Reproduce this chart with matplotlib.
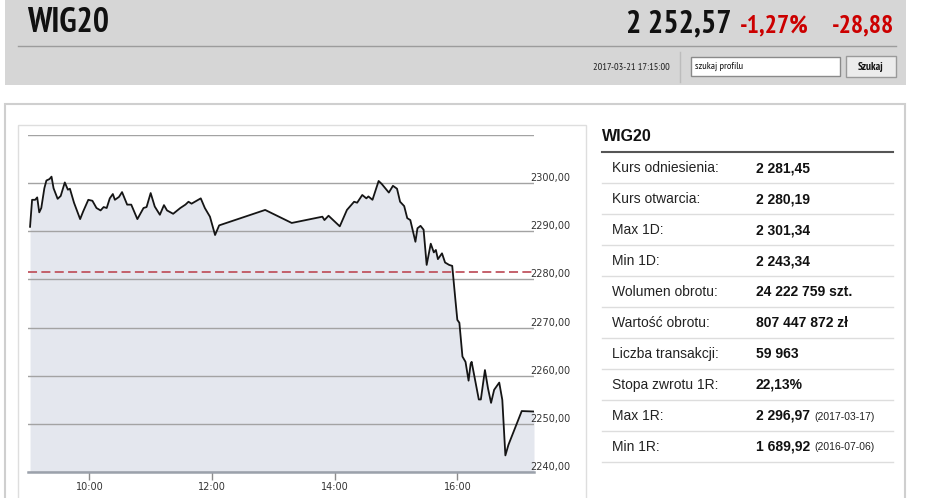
import numpy as np
import matplotlib.pyplot as plt
from matplotlib.patches import Rectangle
from matplotlib import font_manager

# intraday WIG20 quotes (time, index level)
times = ['09:02', '09:04', '09:07', '09:09', '09:11', '09:13', '09:16', '09:18',
         '09:21', '09:23', '09:25', '09:29', '09:32', '09:36', '09:39', '09:41',
         '09:45', '09:51', '09:54', '09:59', '10:03', '10:07', '10:11', '10:14',
         '10:17', '10:20', '10:23', '10:25', '10:29', '10:32', '10:37', '10:41',
         '10:47', '10:53', '10:56', '11:00', '11:04', '11:09', '11:13', '11:16',
         '11:22', '11:29', '11:34', '11:37', '11:40', '11:49', '11:53', '11:58',
         '12:03', '12:07', '12:52', '13:18', '13:48', '13:50', '13:54', '14:05',
         '14:12', '14:19', '14:22', '14:27', '14:31', '14:33', '14:37', '14:43',
         '14:46', '14:53', '14:57', '15:01', '15:04', '15:08', '15:11', '15:14',
         '15:19', '15:21', '15:24', '15:27', '15:30', '15:34', '15:37', '15:39',
         '15:41', '15:45', '15:48', '15:52', '15:55', '15:58', '16:00', '16:02',
         '16:05', '16:08', '16:11', '16:13', '16:14', '16:21', '16:23', '16:27',
         '16:30', '16:33', '16:36', '16:41', '16:44', '16:47', '16:50', '17:03',
         '17:15']
values = [2290.9, 2296.5, 2296.5, 2297.0, 2293.9, 2294.8, 2298.9, 2300.5,
          2300.8, 2301.3, 2298.9, 2296.7, 2297.3, 2300.1, 2298.6, 2298.8,
          2295.9, 2292.5, 2294.1, 2296.5, 2296.3, 2294.8, 2294.3, 2295.0,
          2294.8, 2296.8, 2297.7, 2296.5, 2297.1, 2298.1, 2295.5, 2295.5,
          2292.5, 2294.8, 2295.0, 2297.9, 2295.1, 2293.4, 2295.4, 2294.3,
          2293.6, 2294.8, 2295.5, 2296.1, 2295.7, 2296.8, 2294.8, 2293.0,
          2289.2, 2291.2, 2294.4, 2291.7, 2293.0, 2292.3, 2293.2, 2291.0,
          2294.4, 2296.1, 2295.9, 2297.5, 2296.8, 2297.2, 2296.5, 2300.4,
          2299.8, 2298.0, 2299.4, 2298.8, 2296.1, 2295.2, 2292.7, 2292.3,
          2287.8, 2290.6, 2291.1, 2290.3, 2283.0, 2287.4, 2285.6, 2286.1,
          2284.2, 2285.4, 2283.5, 2283.0, 2282.8, 2276.0, 2271.6, 2271.0,
          2264.0, 2262.9, 2259.0, 2262.5, 2262.9, 2255.1, 2255.1, 2261.2,
          2257.4, 2254.4, 2257.1, 2258.6, 2255.0, 2243.5, 2245.7, 2252.7,
          2252.6]
ref_level = 2281.45
grid_levels = [2240, 2250, 2260, 2270, 2280, 2290, 2300, 2310]
label_levels = [2240, 2250, 2260, 2270, 2280, 2290, 2300]
x_ticks = ['10:00', '12:00', '14:00', '16:00']

table_labels = ['Kurs odniesienia:', 'Kurs otwarcia:', 'Max 1D:', 'Min 1D:',
                'Wolumen obrotu:', 'Wartość obrotu:', 'Liczba transakcji:',
                'Stopa zwrotu 1R:', 'Max 1R:', 'Min 1R:']
table_values = ['2 281,45', '2 280,19', '2 301,34', '2 243,34', '24 222 759 szt.',
                '807 447 872 zł', '59 963', '22,13%', '2 296,97', '1 689,92']
table_notes = ['', '', '', '', '', '', '', '', '(2017-03-17)', '(2016-07-06)']


def to_hours(s):
    h, m = s.split(':')
    return int(h) + int(m) / 60


t = np.array([to_hours(s) for s in times])
v = np.array(values)

plt.rcParams['font.family'] = ['Liberation Sans', 'DejaVu Sans']

# pick a narrow face for the header (Arial Narrow look-alike)
have = {f.name for f in font_manager.fontManager.ttflist}
narrow_pref = ['Liberation Sans Narrow', 'Arial Narrow', 'PT Sans Narrow',
               'Archivo Narrow', 'Roboto Condensed', 'IBM Plex Sans Condensed']
narrow = [n for n in narrow_pref if n in have][0]

W, H = 945, 498
fig = plt.figure(figsize=(W / 100, H / 100), dpi=100)

# page background in pixel coordinates
bg = fig.add_axes([0, 0, 1, 1])
bg.set_xlim(0, W)
bg.set_ylim(H, 0)
bg.axis('off')

# header bar
bg.add_patch(Rectangle((5, 0), 901, 85, fc='#d6d6d6', ec='none'))
bg.plot([18, 896], [46, 46], color='#9c9c9c', lw=1)
bg.text(27, 32, 'WIG20', fontsize=24.5, fontweight='bold', family=narrow,
        color='#111111', va='baseline')
bg.text(731, 32, '2 252,57', fontsize=23, fontweight='bold', family=narrow,
        color='#111111', ha='right', va='baseline')
bg.text(740, 32, '-1,27%', fontsize=18.5, fontweight='bold', family=narrow,
        color='#cc0000', va='baseline')
bg.text(894, 32, '-28,88', fontsize=18.5, fontweight='bold', family=narrow,
        color='#cc0000', ha='right', va='baseline')
bg.text(670, 67, '2017-03-21 17:15:00', fontsize=7.5, family=narrow, color='#222222',
        ha='right', va='center')
bg.plot([680, 680], [52, 82], color='#bcbcbc', lw=1)
bg.add_patch(Rectangle((691, 57), 149, 19, fc='white', ec='#8a8a8a', lw=1))
bg.text(695, 66.5, 'szukaj profilu', fontsize=7.5, family=narrow, color='#111111',
        va='center')
bg.add_patch(Rectangle((846, 56), 50, 21, fc='#ececec', ec='#9a9a9a', lw=1))
bg.text(871, 66.5, 'Szukaj', fontsize=8, fontweight='bold', family=narrow,
        color='#111111', ha='center', va='center')

# content panels
bg.add_patch(Rectangle((5, 104), 900, 400, fc='white', ec='#cfcfcf', lw=1.5))
bg.add_patch(Rectangle((18, 125), 568, 380, fc='none', ec='#dedede', lw=1))

# info table
bg.text(602, 136, 'WIG20', fontsize=11.5, fontweight='bold', color='#111111', va='center')
bg.plot([602, 893], [152.3, 152.3], color='#555555', lw=1.5)
row_h = 30.95
for i in range(len(table_labels)):
    yc = 168.2 + i * row_h
    bg.text(612, yc, table_labels[i], fontsize=10, color='#222222', va='center')
    val = bg.text(756, yc, table_values[i], fontsize=10, fontweight='bold',
                  color='#111111', va='center')
    if table_notes[i]:
        bg.annotate(table_notes[i], xy=(1, 0.45), xycoords=val, xytext=(3, 0),
                    textcoords='offset points', fontsize=7.5, color='#222222',
                    va='center')
    bg.plot([602, 893], [152.3 + (i + 1) * row_h] * 2, color='#dddddd', lw=1)

# intraday chart
ax = fig.add_axes([28 / W, 1 - 472.3 / H, 506 / W, (472.3 - 134.7) / H])
ax.patch.set_alpha(0)
ax.set_xlim(9.0, 17.25)
ax.set_ylim(2240, 2310)
for side in ['top', 'right', 'left']:
    ax.spines[side].set_visible(False)
ax.spines['bottom'].set_color('#9ba1ab')
ax.spines['bottom'].set_linewidth(1.8)

ax.fill_between(t, v, 2240, color='#e4e7ee', lw=0)
ax.plot(t, v, color='#151515', lw=1.3)
ax.axhline(ref_level, color='#c05560', lw=1.3, ls=(0, (5, 2.4)), zorder=3)

ax.set_yticks(grid_levels)
ax.tick_params(axis='y', length=0, labelleft=False)
ax.grid(axis='y', color='#a3a3a3', lw=1)

ax.set_xticks([to_hours(s) for s in x_ticks])
ax.set_xticklabels(x_ticks, family='DejaVu Sans')
ax.tick_params(axis='x', length=5.5, width=1, color='#8c8c8c', labelsize=7,
               labelcolor='#333333', pad=1.5)

for lv in label_levels:
    ax.annotate(f'{lv},00', xy=(1, lv), xycoords=('axes fraction', 'data'),
                xytext=(-4, 5), textcoords='offset pixels', fontsize=7,
                family='DejaVu Sans', color='#333333', va='center',
                annotation_clip=False, zorder=4)

fig.savefig('out.png', dpi=100)
